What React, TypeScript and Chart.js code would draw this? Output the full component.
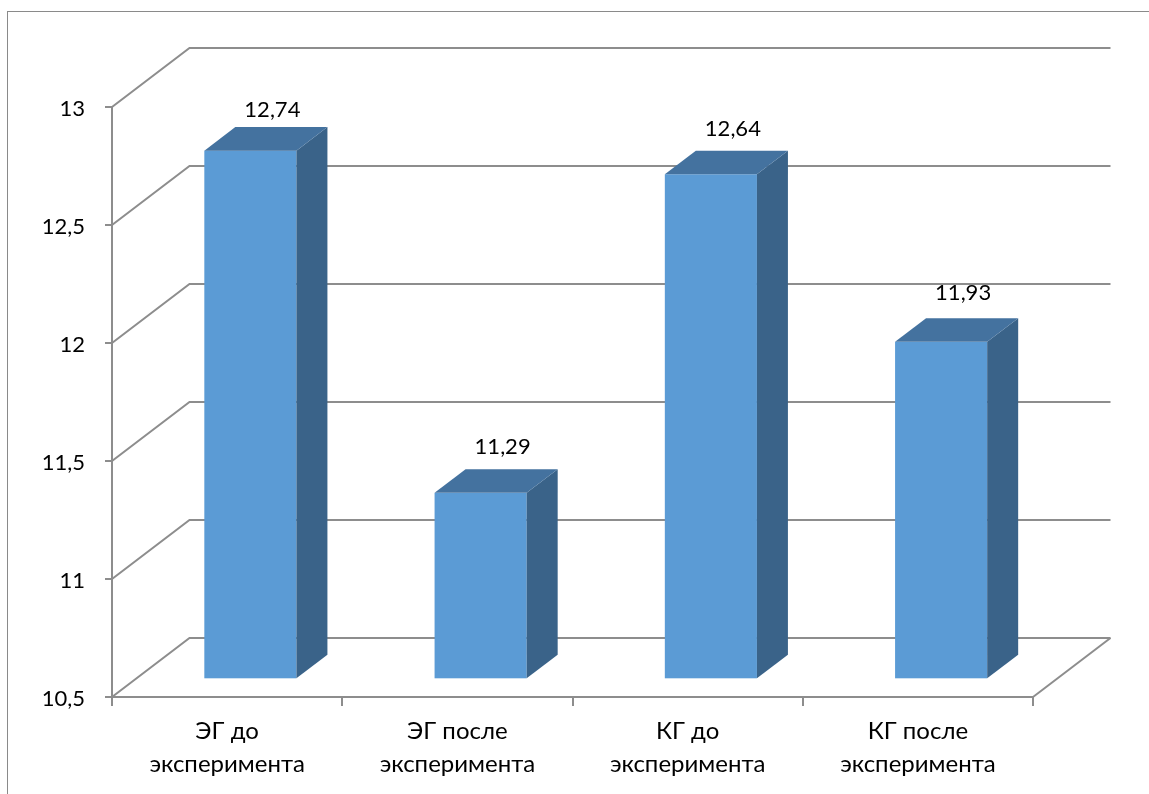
import React, { useEffect, useRef } from 'react';
import { Chart, registerables } from 'chart.js';

Chart.register(...registerables);

// Categories (two-line labels) and measured values
const categories: string[][] = [
  ['ЭГ до', 'эксперимента'],
  ['ЭГ после', 'эксперимента'],
  ['КГ до', 'эксперимента'],
  ['КГ после', 'эксперимента'],
];
const values: number[] = [12.74, 11.29, 12.64, 11.93];

// Value axis range
const yMin = 10.5;
const yMax = 13;
const yStep = 0.5;

const FONT = 'Lato, "Open Sans", "DejaVu Sans", sans-serif';
const GRID = '#8d8d8d';
const FRONT = '#5b9bd5';
const TOP = '#44729f';
const SIDE = '#3a6389';

// Oblique depth of the 3D box and the slab of depth occupied by the bars
const DX = 77.5;
const DY = -59;
const NEAR = 0.3;
const FAR = 0.7;

const fmt = (v: number) => String(v).replace('.', ',');

const box3d = {
  id: 'box3d',
  beforeDraw(chart: any) {
    const ctx = chart.ctx;
    ctx.save();
    ctx.strokeStyle = '#8a8a8a';
    ctx.lineWidth = 1;
    ctx.strokeRect(7.5, 11.5, chart.width + 40, chart.height + 40);
    ctx.restore();
  },
  beforeDatasetsDraw(chart: any) {
    const { ctx, chartArea: a } = chart;
    const y = chart.scales.y;
    ctx.save();
    // side wall + back wall grid
    ctx.strokeStyle = GRID;
    ctx.lineWidth = 2;
    y.ticks.forEach((t: any) => {
      const py = y.getPixelForValue(t.value);
      ctx.beginPath();
      ctx.moveTo(a.left, py);
      ctx.lineTo(a.left + DX, py + DY);
      ctx.lineTo(a.right + DX, py + DY);
      ctx.stroke();
    });
    // right edge of the floor
    ctx.beginPath();
    ctx.moveTo(a.right, a.bottom);
    ctx.lineTo(a.right + DX, a.bottom + DY);
    ctx.stroke();

    // bars as boxes
    const meta = chart.getDatasetMeta(0);
    const nx = DX * NEAR, ny = DY * NEAR, fx = DX * FAR, fy = DY * FAR;
    meta.data.forEach((el: any) => {
      const { x, y: top, base, width } = el.getProps(['x', 'y', 'base', 'width'], true);
      const l = x - width / 2;
      const r = x + width / 2;
      ctx.fillStyle = FRONT;
      ctx.fillRect(l + nx, top + ny, width, base - top);
      ctx.fillStyle = SIDE;
      ctx.beginPath();
      ctx.moveTo(r + nx, top + ny);
      ctx.lineTo(r + fx, top + fy);
      ctx.lineTo(r + fx, base + fy);
      ctx.lineTo(r + nx, base + ny);
      ctx.closePath();
      ctx.fill();
      ctx.fillStyle = TOP;
      ctx.beginPath();
      ctx.moveTo(l + nx, top + ny);
      ctx.lineTo(l + fx, top + fy);
      ctx.lineTo(r + fx, top + fy);
      ctx.lineTo(r + nx, top + ny);
      ctx.closePath();
      ctx.fill();
    });
    ctx.restore();
  },
  afterDatasetsDraw(chart: any) {
    const ctx = chart.ctx;
    const meta = chart.getDatasetMeta(0);
    ctx.save();
    ctx.font = `22px ${FONT}`;
    ctx.fillStyle = '#000';
    ctx.textAlign = 'center';
    ctx.textBaseline = 'middle';
    meta.data.forEach((el: any, i: number) => {
      const v = values[i];
      const { x, y } = el.getProps(['x', 'y'], true);
      // value label floats above the box, drifting a little with perspective
      const lx = x + DX * NEAR + 22;
      const ly = y - (58 + 2.2 * i + 2.2 * (yMax - v));
      ctx.fillText(fmt(v), lx, ly);
    });
    ctx.restore();
  },
};

export default function App() {
  const ref = useRef<HTMLCanvasElement>(null);

  useEffect(() => {
    const canvas = ref.current;
    if (!canvas) return;
    const chart = new Chart(canvas, {
      type: 'bar',
      data: {
        labels: categories as any,
        datasets: [
          {
            data: values,
            base: yMin,
            backgroundColor: 'rgba(0,0,0,0)',
            borderWidth: 0,
            categoryPercentage: 1,
            barPercentage: 0.4,
          } as any,
        ],
      },
      options: {
        animation: false,
        responsive: false,
        devicePixelRatio: 1,
        layout: { padding: { top: 107, right: 116, left: 0, bottom: 0 } },
        plugins: { legend: { display: false }, tooltip: { enabled: false } },
        scales: {
          x: {
            afterFit: (s: any) => { s.height = 97; },
            grid: {
              display: true,
              drawOnChartArea: false,
              drawTicks: true,
              tickLength: 9,
              color: GRID,
              lineWidth: 2,
              offset: true,
            },
            border: { display: true, color: GRID, width: 2 },
            ticks: {
              color: '#000',
              font: { family: FONT, size: 24, lineHeight: 1.4 },
              maxRotation: 0,
              autoSkip: false,
              padding: 8,
            },
          },
          y: {
            min: yMin,
            max: yMax,
            afterFit: (s: any) => { s.width = 112; },
            grid: {
              display: true,
              drawOnChartArea: false,
              drawTicks: true,
              tickLength: 7,
              color: GRID,
              lineWidth: 2,
            },
            border: { display: true, color: GRID, width: 2 },
            ticks: {
              stepSize: yStep,
              color: '#000',
              font: { family: FONT, size: 22 },
              padding: 20,
              labelOffset: 2,
              callback: (v: any) => fmt(Number(v)),
            },
          },
        },
      },
      plugins: [box3d],
    });
    return () => chart.destroy();
  }, []);

  return (
    <div style={{ position: 'fixed', left: 0, top: 0, width: 1149, height: 794, background: '#fff' }}>
      <canvas ref={ref} width={1149} height={794} style={{ display: 'block' }} />
    </div>
  );
}
